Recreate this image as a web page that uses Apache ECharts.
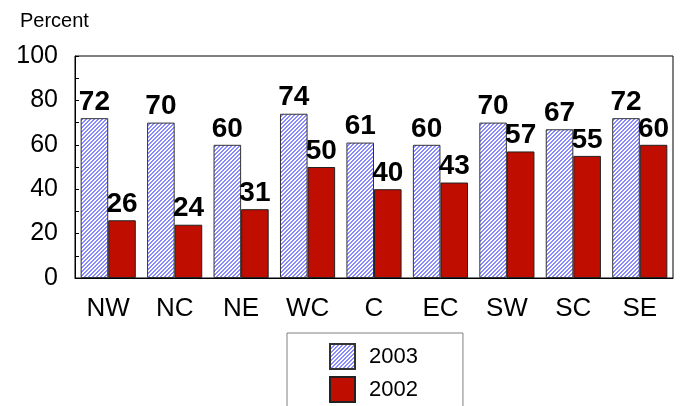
<!DOCTYPE html>
<html>
<head>
<meta charset="utf-8">
<script src="https://cdn.jsdelivr.net/npm/echarts@6/dist/echarts.min.js"></script>
<style>
  html, body { margin: 0; padding: 0; background: #fff; }
  #chart { width: 686px; height: 406px; }
</style>
</head>
<body>
<div id="chart"></div>
<script>
const regions = ['NW', 'NC', 'NE', 'WC', 'C', 'EC', 'SW', 'SC', 'SE']
const values2003 = [72, 70, 60, 74, 61, 60, 70, 67, 72]
const values2002 = [26, 24, 31, 50, 40, 43, 57, 55, 60]
const yTicks = [0, 20, 40, 60, 80, 100]

// diagonal hatch for the 2003 bars
const makeHatch = () => {
  const c = document.createElement('canvas')
  c.width = 4
  c.height = 4
  const ctx = c.getContext('2d')
  ctx.fillStyle = '#ffffff'
  ctx.fillRect(0, 0, 4, 4)
  ctx.fillStyle = '#8a8aff'
  for (let x = 0; x < 4; x++) {
    for (let y = 0; y < 4; y++) {
      if ((x + y) % 4 < 2) ctx.fillRect(x, y, 1, 1)
    }
  }
  return c
}

const font = 'Liberation Sans, Arial, sans-serif'
const chart = echarts.init(document.getElementById('chart'))

const labelStyle = {
  show: true,
  position: 'top',
  distance: 2,
  fontFamily: font,
  fontWeight: 'bold',
  fontSize: 28,
  color: '#000'
}

chart.setOption({
  animation: false,
  title: {
    text: 'Percent',
    left: 15,
    top: 6,
    textStyle: { fontFamily: font, fontSize: 20, fontWeight: 'normal', color: '#000' }
  },
  grid: {
    left: 75, right: 13, top: 56, bottom: 128,
    show: true, borderColor: '#000', borderWidth: 1
  },
  legend: {
    orient: 'vertical',
    left: 287,
    top: 333,
    height: 100,
    padding: [10, 45, 20, 42],
    itemWidth: 25,
    itemHeight: 25,
    itemGap: 6,
    icon: 'rect',
    borderColor: '#808080',
    borderWidth: 1,
    textStyle: { fontFamily: font, fontSize: 22, color: '#000', padding: [0, 0, 0, 9] },
    data: ['2003', '2002']
  },
  xAxis: {
    type: 'category',
    data: regions,
    axisLine: { lineStyle: { color: '#000' } },
    axisTick: { show: false },
    axisLabel: { fontFamily: font, fontSize: 26, color: '#000', margin: 18 }
  },
  yAxis: {
    type: 'value',
    min: 0,
    max: 100,
    interval: 20,
    axisLine: { show: true, lineStyle: { color: '#000' } },
    axisTick: { show: true, inside: true, length: 4, lineStyle: { color: '#000' } },
    minorTick: { show: true, splitNumber: 2, length: 4, lineStyle: { color: '#000' } },
    splitLine: { show: false },
    axisLabel: {
      fontFamily: font, fontSize: 25, color: '#000', margin: 17,
      formatter: v => (yTicks.includes(v) ? String(v) : '')
    }
  },
  series: [
    {
      name: '2003',
      type: 'bar',
      data: values2003,
      barGap: '0%',
      barCategoryGap: '17%',
      itemStyle: { color: { image: makeHatch(), repeat: 'repeat' }, borderColor: '#333', borderWidth: 1 },
      label: labelStyle
    },
    {
      name: '2002',
      type: 'bar',
      data: values2002,
      itemStyle: { color: '#bf0d00', borderColor: '#222', borderWidth: 1 },
      label: labelStyle
    }
  ]
})
</script>
</body>
</html>
